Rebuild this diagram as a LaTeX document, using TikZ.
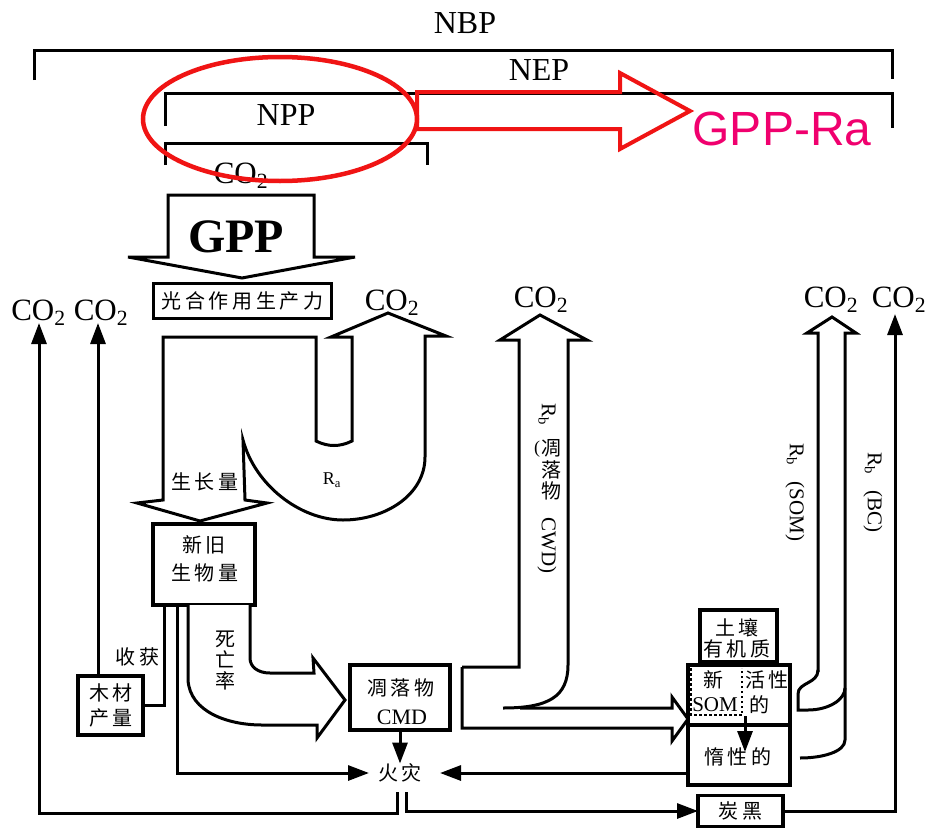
\documentclass[tikz,border=0pt]{standalone}
\usepackage{fontspec}
\setmainfont{Liberation Serif}
\newfontfamily\cjk[LetterSpace=18]{Noto Sans CJK SC}
\newfontfamily\cjkn{Noto Sans CJK SC}
\newfontfamily\sansf{Liberation Sans}
\usetikzlibrary{arrows.meta}
\definecolor{ered}{RGB}{240,20,20}
\definecolor{epink}{RGB}{240,0,110}
\begin{document}
\begin{tikzpicture}[x=1pt,y=-1pt,
  ln/.style={line width=3pt},
  fat/.style={line width=3pt, fill=white},
  arr/.style={line width=3pt, -{Triangle[length=21pt,width=15pt]}},
  bx/.style 2 args={draw, line width=3.2pt, minimum width=#1pt, minimum height=#2pt, inner sep=0pt, outer sep=0pt},
  cn/.style={font=\cjk\fontsize{20}{24}\selectfont, inner sep=0pt},
  big/.style={font=\fontsize{32}{32}\selectfont, inner sep=0pt, anchor=base},
  co/.style={font=\fontsize{31}{31}\selectfont, inner sep=0pt, anchor=base},
  lab/.style={font=\fontsize{21}{21}\selectfont, inner sep=0pt},
]
\fill[white] (0,0) rectangle (931,827);
\useasboundingbox (0,0) rectangle (931,827);

% ---------- top brackets ----------
\node[big] (nbp) at (465,33) {NBP};
\draw[ln] (34,80) -- (34,50) -- (892,50) -- (892,79);
\node[big] (nep) at (539,80) {NEP};
\draw[ln] (165,126) -- (165,93) -- (892,93) -- (892,128);
\node[big] (npp) at (286,125) {NPP};
\draw[ln] (165,165) -- (165,143) -- (427,143) -- (427,165);
\node[co] (co0) at (241,183) {CO\textsubscript{2}};
\draw[ered, line width=4.5pt] (280,119) ellipse [x radius=137, y radius=62];
\draw[ered, line width=4pt, line join=miter] (417,92) -- (620,92) -- (620,73) -- (690,111) -- (620,149) -- (620,129) -- (417,129) -- cycle;
\node[font=\sansf\fontsize{48}{48}\selectfont, text=epink, anchor=base, inner sep=0pt] (gppra) at (782,145) {GPP-Ra};

% ---------- GPP ----------
\draw[fat] (168,195) -- (314,195) -- (314,257) -- (355,257) -- (242,278) -- (128,257) -- (168,257) -- cycle;
\node[font=\bfseries\fontsize{48}{48}\selectfont, anchor=base, inner sep=0pt] (gpp) at (236,252) {GPP};

\node[bx={178}{35}, cn] (photo) at (242.5,301) {光合作用生产力};

% ---------- growth / Ra ----------
\draw[fat] (163,337) -- (316,337) -- (316,441) .. controls (328,447) and (340,447) .. (352,441) -- (352,337) -- (331,337) -- (388,313) -- (446,336) -- (425,336) -- (425,457) .. controls (425,495) and (385,520) .. (343,520) .. controls (300,520) and (255,485) .. (243,440) -- (245,500) -- (267,503) -- (200,521) -- (137,503) -- (163,500) -- cycle;
\node[cn] (grow) at (205,482) {生长量};
\node[font=\fontsize{18}{18}\selectfont, inner sep=0pt] (ra) at (332,480) {R\textsubscript{a}};
\node[co] (co3) at (392,310) {CO\textsubscript{2}};

% ---------- biomass ----------
\node[bx={102}{81}] (bio) at (204,564.5) {};
\node[cn] (bio1) at (204,545) {新旧};
\node[cn] (bio2) at (205,573) {生物量};

% mortality
\draw[fat] (188,605) -- (188,680) .. controls (190,712) and (228,725) .. (262,725) -- (317,725) -- (317,738) -- (345,700) -- (313,658) -- (314,673) -- (270,673) .. controls (258,673) and (250,667) .. (250,658) -- (250,605);
\node[font=\cjkn\fontsize{20}{21}\selectfont, inner sep=0pt, align=center] (death) at (225,661) {死\\亡\\率};

% wood
\node[bx={65}{59}] (wood) at (110.5,705.5) {};
\node[cn] (wood1) at (111,693) {木材};
\node[cn] (wood2) at (111,718) {产量};
\node[cn] (harv) at (137.5,657) {收获};

% CMD
\node[bx={100}{65}] (cmd) at (400,697.5) {};
\node[cn] (cmd1) at (401,688) {凋落物};
\node[font=\fontsize{22}{22}\selectfont, inner sep=0pt] (cmd2) at (402,717) {CMD};

% fire
\node[cn] (fire) at (400,773) {火灾};

% soil
\node[bx={77}{52}] (soil) at (738.5,636) {};
\node[cn] (soil1) at (737,628) {土壤};
\node[cn] (soil2) at (737,649) {有机质};
\node[bx={102}{60}] (act) at (739,695) {};
\node[bx={102}{60}] (inert) at (739,755) {};
\node[cn] (inert1) at (738,757) {惰性的};
\node[cn] (new) at (713,680) {新};
\node[font=\fontsize{21}{21}\selectfont, inner sep=0pt] (som) at (715,705) {SOM};
\node[cn] (act1) at (767,680) {活性};
\node[cn] (act2) at (759,705) {的};
\draw[line width=2.5pt, dash pattern=on 2.5pt off 2.5pt] (691,668) -- (691,715) -- (742,715) -- (742,668);

% black carbon
\node[bx={85}{31}, cn] (bc) at (740.5,811) {炭黑};

% ---------- CWD fat arrow ----------
\draw[ln, line join=miter] (462,667) -- (519,667) -- (519,340) -- (500,340) -- (540,315) -- (587,340) -- (568,340) -- (568,665) .. controls (568,697) and (548,708) .. (503,708);
\draw[ln, line join=miter] (520,708) -- (672,708) -- (672,697) -- (688,719) -- (672,741) -- (672,728) -- (462,728) -- (462,667);

% ---------- SOM fat arrow ----------
\draw[ln, line join=miter] (818,672) -- (818,333) -- (807,333) -- (832,317) -- (856,333) -- (845,333) -- (845,740) .. controls (845,752) and (822,758) .. (800,758);
\draw[ln] (818,670) .. controls (818,684) and (798,682) .. (798,694) -- (798,710) -- (808,710) .. controls (828,710) and (845,700) .. (845,688);

% ---------- Rh labels ----------
\node[lab, rotate=-90, anchor=west] (rb1) at (547,403) {R\textsubscript{b}};
\node[font=\fontsize{18}{18}\selectfont, inner sep=0pt] (rb1p) at (537,449) {(};
\node[font=\cjkn\fontsize{20}{21.5}\selectfont, inner sep=0pt, align=center] (rb1c) at (551,470) {凋\\落\\物};
\node[lab, rotate=-90, anchor=west] (rb1d) at (547,517) {CWD)};
\node[lab, rotate=-90, anchor=west] (rb2) at (795,443) {R\textsubscript{b}\hspace{0.8em}(SOM)};
\node[lab, rotate=-90, anchor=west] (rb3) at (873,452) {R\textsubscript{b}\hspace{0.8em}(BC)};

% ---------- CO2 labels ----------
\node[co] (co1) at (38.5,320) {CO\textsubscript{2}};
\node[co] (co2) at (101,320) {CO\textsubscript{2}};
\node[co] (co4) at (541,307) {CO\textsubscript{2}};
\node[co] (co5) at (831,307) {CO\textsubscript{2}};
\node[co] (co6) at (899,307) {CO\textsubscript{2}};

\coordinate (t1) at (39,323);
\coordinate (t2) at (98,323);
\coordinate (t6) at (895,314);
\coordinate (fL) at (397,792);
\coordinate (fR) at (406,792);
\coordinate (a1) at (745,716);
\coordinate (a2) at (745,752);

% ---------- thin connectors ----------
\draw[arr] (fL) -- ++(0,21) -| (t1);
\draw[arr] (fR) |- (bc.west);
\draw[arr] (bc.east) -| (t6);
\draw[arr] (wood.north -| t2) -- (t2);
\draw[ln] ([xshift=11pt]bio.south west) |- (wood.east);
\draw[arr] ([xshift=24pt]bio.south west) |- ([xshift=-9pt]fire.west);
\draw[arr] (inert.west |- fire) -- ([xshift=18pt]fire.east);
\draw[arr] (cmd.south) -- (fire.north);
\draw[arr] (a1) -- (a2);
\end{tikzpicture}
\end{document}
